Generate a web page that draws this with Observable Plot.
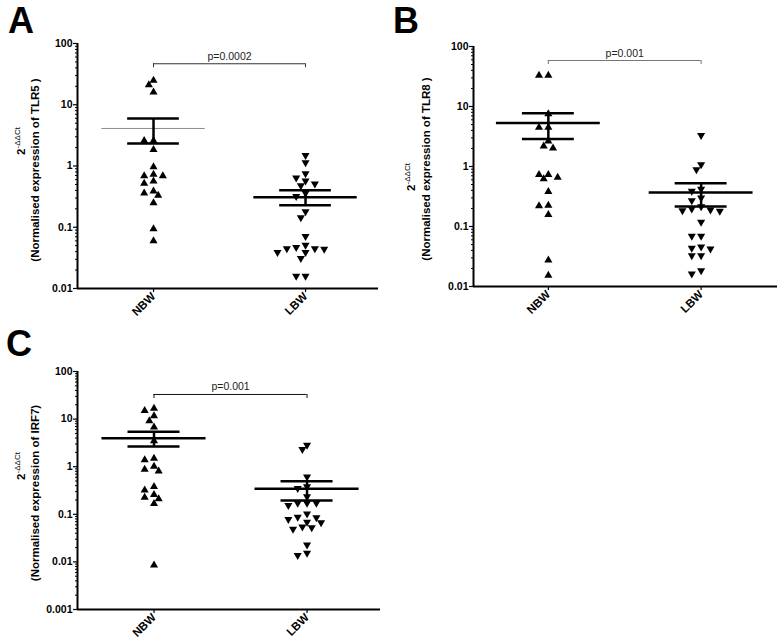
<!DOCTYPE html>
<html><head><meta charset="utf-8">
<script src="https://cdn.jsdelivr.net/npm/d3@7"></script>
<script src="https://cdn.jsdelivr.net/npm/@observablehq/plot@0.6"></script>
<style>
body{margin:0;background:#fff;}
#wrap{position:relative;width:782px;height:643px;overflow:hidden;font-family:"Liberation Sans",Arial,sans-serif;}
.panel{position:absolute;}
</style></head><body><div id="wrap"></div>
<script>
// ---- data ----
const groups = ["NBW", "LBW"];
const panelLetters = ["A", "B", "C"];
const genes = ["TLR5 ", "TLR8 ", "IRF7"];
const pValues = ["p=0.0002", "p=0.001", "p=0.001"];

const tlr5NBW = [25, 21, 16, 2.6, 2.6, 1.85, 0.97, 0.69, 0.69, 0.73, 0.565, 0.52, 0.39, 0.36, 0.33, 0.25, 0.094, 0.060];
const tlr5LBW = [1.5, 1.14, 0.75, 0.64, 0.57, 0.51, 0.48, 0.36, 0.32, 0.18, 0.144, 0.071, 0.051, 0.047, 0.045, 0.045, 0.044, 0.039, 0.039, 0.031, 0.016, 0.016];
const tlr8NBW = [33, 33, 7.5, 4.5, 4.5, 2.64, 2.18, 2.02, 0.73, 0.73, 0.66, 0.62, 0.38, 0.224, 0.22, 0.158, 0.0275, 0.0153];
const tlr8LBW = [3.3, 1.08, 0.89, 0.42, 0.39, 0.30, 0.27, 0.215, 0.197, 0.19, 0.185, 0.18, 0.118, 0.069, 0.069, 0.046, 0.0435, 0.0425, 0.0329, 0.0329, 0.0185, 0.0163];
const irf7NBW = [16.8, 15.1, 11.7, 9.2, 6.8, 3.47, 1.5, 1.39, 1.01, 0.88, 0.81, 0.38, 0.32, 0.26, 0.225, 0.21, 0.167, 0.0085];
const irf7LBW = [2.86, 2.33, 0.61, 0.38, 0.35, 0.237, 0.172, 0.172, 0.172, 0.155, 0.102, 0.087, 0.085, 0.078, 0.069, 0.0668, 0.0545, 0.0528, 0.0488, 0.0228, 0.0154, 0.0138];

// mean and SEM bounds: [NBW, LBW]
const tlr5Mean = [4.1, 0.31], tlr5SemHi = [5.96, 0.40], tlr5SemLo = [2.33, 0.228];
const tlr8Mean = [5.3, 0.37], tlr8SemHi = [7.74, 0.527], tlr8SemLo = [2.86, 0.215];
const irf7Mean = [3.95, 0.345], irf7SemHi = [5.45, 0.495], irf7SemLo = [2.65, 0.195];

const bracketLevels = [46.7, 58.4, 32.9];

const yTicksAB = [0.01, 0.1, 1, 10, 100];
const yLabelsAB = ["0.01", "0.1", "1", "10", "100"];
const yTicksC = [0.001, 0.01, 0.1, 1, 10, 100];
const yLabelsC = ["0.001", "0.01", "0.1", "1", "10", "100"];

// ---- layout ----
const FONT = "'Liberation Sans', Arial, sans-serif";
const panels = [
  {i:0, nbw:tlr5NBW, lbw:tlr5LBW, mean:tlr5Mean, hi:tlr5SemHi, lo:tlr5SemLo, ticks:yTicksAB, labels:yLabelsAB,
   left:0, top:0, width:390, height:320, m:{t:43, r:12, b:32, l:77}, xd:[0.5, 2.48],
   letterX:8, letterY:33, l1X:25, l1Y:141, l2X:39, l2Y:170,
   meanStroke:["#8a8a8a", "#000"], meanWidth:[1, 2.5], bracketStroke:"#333"},
  {i:1, nbw:tlr8NBW, lbw:tlr8LBW, mean:tlr8Mean, hi:tlr8SemHi, lo:tlr8SemLo, ticks:yTicksAB, labels:yLabelsAB,
   left:390, top:0, width:392, height:320, m:{t:46, r:5, b:34, l:83}, xd:[0.51, 2.5],
   letterX:3, letterY:33, l1X:25, l1Y:177, l2X:40, l2Y:169,
   meanStroke:["#000", "#000"], meanWidth:[2.5, 2.5], bracketStroke:"#777"},
  {i:2, nbw:irf7NBW, lbw:irf7LBW, mean:irf7Mean, hi:irf7SemHi, lo:irf7SemLo, ticks:yTicksC, labels:yLabelsC,
   left:0, top:320, width:390, height:323, m:{t:51, r:10, b:34, l:77}, xd:[0.5, 2.48],
   letterX:6, letterY:36, l1X:25, l1Y:146, l2X:39, l2Y:173,
   meanStroke:["#000", "#000"], meanWidth:[2.5, 2.5], bracketStroke:"#111"}
];

function swarm(values, g, top, decadePx, unitPx) {
  const step = 4.67, minDist = 6.3;
  const pts = values.map(v => ({v, g, py: (Math.log10(top) - Math.log10(v)) * decadePx}));
  const order = pts.slice().sort((a, b) => a.py - b.py);
  const placed = [];
  for (const p of order) {
    for (let k = 0; ; k++) {
      const c = k === 0 ? 0 : (k % 2 ? -(k + 1) / 2 : k / 2);
      if (!placed.some(q => Math.hypot((q.c - c) * step, q.py - p.py) < minDist)) {
        p.c = c; placed.push(p); break;
      }
    }
  }
  return pts.map(p => ({value: p.v, x: p.g + p.c * step / unitPx}));
}

const triUp = {draw(ctx, size) {
  const y = -Math.sqrt(size / (3 * Math.sqrt(3)));
  ctx.moveTo(0, y * 2); ctx.lineTo(-Math.sqrt(3) * y, -y); ctx.lineTo(Math.sqrt(3) * y, -y); ctx.closePath();
}};
const triDown = {draw(ctx, size) {
  const y = Math.sqrt(size / (3 * Math.sqrt(3)));
  ctx.moveTo(0, y * 2); ctx.lineTo(-Math.sqrt(3) * y, -y); ctx.lineTo(Math.sqrt(3) * y, -y); ctx.closePath();
}};

const wrap = document.getElementById("wrap");
for (const P of panels) {
  const yd = [P.ticks[0], P.ticks[P.ticks.length - 1]];
  const decades = Math.log10(yd[1]) - Math.log10(yd[0]);
  const innerH = P.height - P.m.t - P.m.b;
  const decadePx = innerH / decades;
  const unitPx = (P.width - P.m.l - P.m.r) / (P.xd[1] - P.xd[0]);
  const nbwPts = swarm(P.nbw, 1, yd[1], decadePx, unitPx);
  const lbwPts = swarm(P.lbw, 2, yd[1], decadePx, unitPx);
  const stats = [0, 1].map(j => ({g: j + 1, mean: P.mean[j], hi: P.hi[j], lo: P.lo[j], stroke: P.meanStroke[j], w: P.meanWidth[j]}));
  const minor = [];
  for (let e = Math.log10(yd[0]); e < Math.log10(yd[1]) - 1e-9; e++)
    for (let k = 2; k <= 9; k++) minor.push(k * Math.pow(10, e));
  const bY = bracketLevels[P.i];
  const bYlow = bY / Math.pow(10, 4 / decadePx);

  const chart = Plot.plot({
    width: P.width, height: P.height,
    marginTop: P.m.t, marginRight: P.m.r, marginBottom: P.m.b, marginLeft: P.m.l,
    style: {fontFamily: FONT, background: "transparent", color: "#000"},
    x: {type: "linear", domain: P.xd, axis: null},
    y: {type: "log", domain: yd, axis: null},
    marks: [
      Plot.axisY({ticks: minor, tickSize: 2, tickFormat: () => "", label: null, strokeWidth: 1}),
      Plot.axisY({ticks: P.ticks, tickSize: 4, tickPadding: 1, label: null, strokeWidth: 1.2,
        tickFormat: d => P.labels[P.ticks.indexOf(d)], fontWeight: "bold", fontSize: 10.5}),
      Plot.axisX({ticks: [1, 2], tickSize: 4, tickPadding: 2, label: null, tickRotate: -45, strokeWidth: 1.2,
        tickFormat: d => groups[d - 1], fontWeight: "bold", fontSize: 11.5}),
      Plot.ruleX([P.xd[0]], {stroke: "#000", strokeWidth: 2}),
      Plot.ruleY([yd[0]], {stroke: "#000", strokeWidth: 2}),
      // bracket
      Plot.ruleY([bY], {x1: 1, x2: 2, stroke: P.bracketStroke, strokeWidth: 1}),
      Plot.ruleX([1, 2], {y1: bY, y2: bYlow, stroke: P.bracketStroke, strokeWidth: 1}),
      Plot.text([pValues[P.i]], {x: 1.5, y: bY, text: d => d, dy: -4, lineAnchor: "bottom", fontSize: 10.5, fill: "#222"}),
      // points
      Plot.dot(nbwPts, {x: "x", y: "value", symbol: triUp, r: 3, fill: "#000", stroke: null}),
      Plot.dot(lbwPts, {x: "x", y: "value", symbol: triDown, r: 3, fill: "#000", stroke: null}),
      // mean + SEM
      Plot.ruleY(stats, {y: "mean", x1: d => d.g - 0.34, x2: d => d.g + 0.34, stroke: d => d.stroke, strokeWidth: d => d.w}),
      Plot.ruleX(stats, {x: "g", y1: "lo", y2: "hi", stroke: "#000", strokeWidth: 2.5}),
      Plot.ruleY(stats, {y: "hi", x1: d => d.g - 0.17, x2: d => d.g + 0.17, stroke: "#000", strokeWidth: 2.5}),
      Plot.ruleY(stats, {y: "lo", x1: d => d.g - 0.17, x2: d => d.g + 0.17, stroke: "#000", strokeWidth: 2.5})
    ]
  });
  const div = document.createElement("div");
  div.className = "panel";
  div.style.left = P.left + "px"; div.style.top = P.top + "px";
  div.appendChild(chart);
  wrap.appendChild(div);

  const svg = d3.select(chart);
  svg.append("text").attr("x", P.letterX).attr("y", P.letterY).attr("text-anchor", "start")
    .style("font-family", FONT).attr("font-weight", "bold").attr("font-size", 36).attr("fill", "#000")
    .text(panelLetters[P.i]);
  const l1 = svg.append("text").attr("transform", `translate(${P.l1X},${P.l1Y}) rotate(-90)`)
    .attr("text-anchor", "middle").style("font-family", FONT).attr("font-weight", "bold").attr("font-size", 11.5).attr("fill", "#000");
  l1.append("tspan").text("2");
  l1.append("tspan").attr("dy", -5).attr("font-size", 8).attr("font-weight", "normal").text("-ΔΔCt");
  svg.append("text").attr("transform", `translate(${P.l2X},${P.l2Y}) rotate(-90)`)
    .attr("text-anchor", "middle").style("font-family", FONT).attr("font-weight", "bold").attr("font-size", 11.5).attr("fill", "#000")
    .text(`(Normalised expression of ${genes[P.i]})`);
}
</script>
</body></html>
